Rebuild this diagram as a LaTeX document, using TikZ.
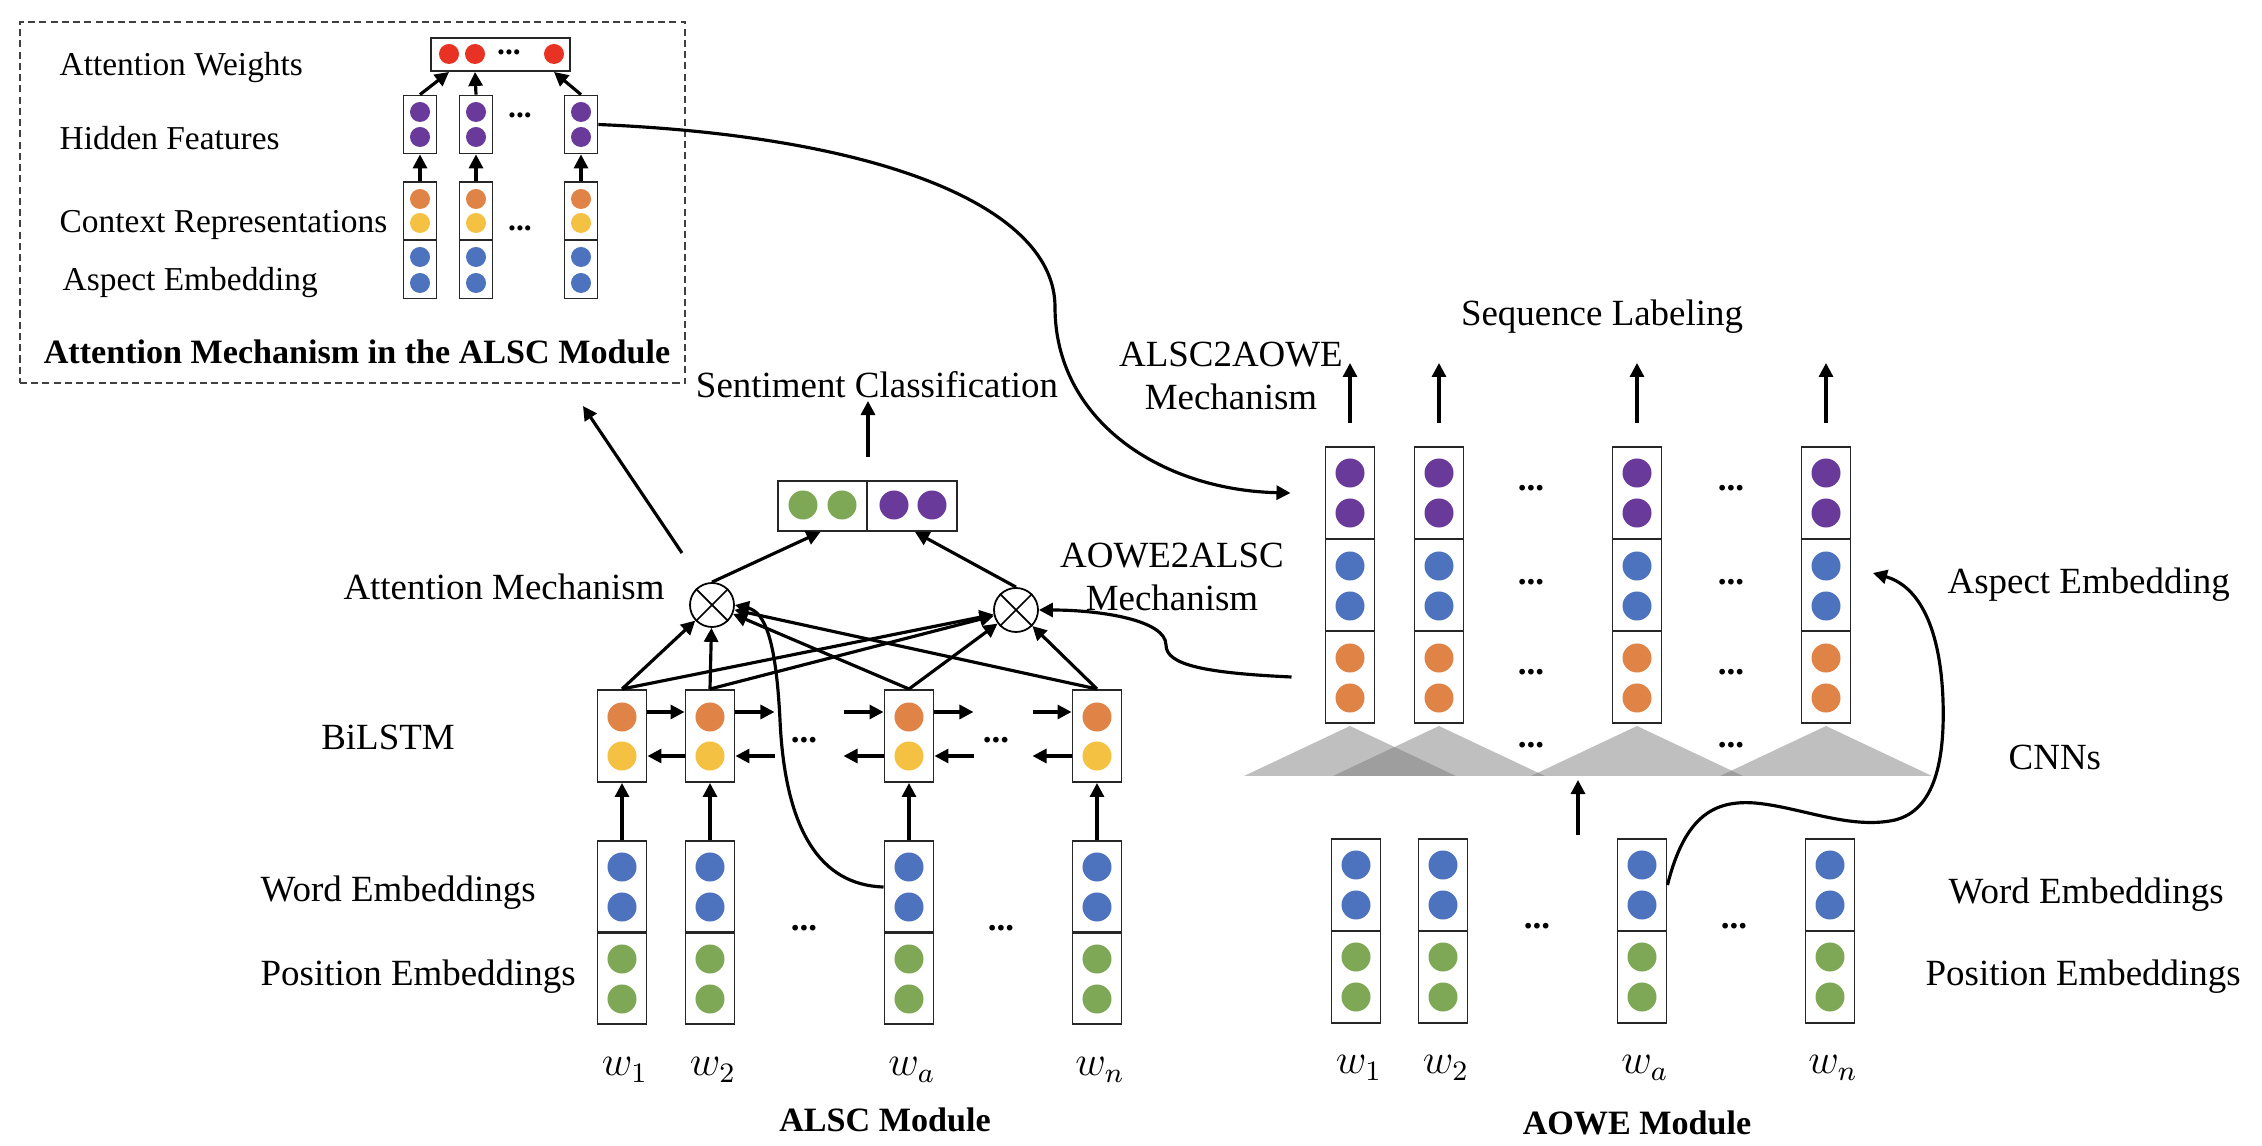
\documentclass[tikz,border=0pt]{standalone}
\usepackage{fontspec}
\setmainfont{Liberation Serif}
\usetikzlibrary{arrows.meta}
\definecolor{dotpurple}{HTML}{6A3A9B}
\definecolor{dotblue}{HTML}{4E73BE}
\definecolor{dotgreen}{HTML}{7FA856}
\definecolor{dotorange}{HTML}{E08346}
\definecolor{dotyellow}{HTML}{F4C142}
\definecolor{dotred}{HTML}{E83223}
\begin{document}
\begin{tikzpicture}[
    x=0.01cm, y=-0.01cm,
    vec/.style={draw=black!85, line width=0.55pt, minimum width=0.49cm,
                minimum height=0.92cm, inner sep=0pt},
    svec/.style={draw=black!85, line width=0.5pt, minimum width=0.33cm,
                 minimum height=0.58cm, inner sep=0pt},
    hvec/.style={draw=black!85, line width=0.55pt, minimum height=0.5cm, inner sep=0pt},
    dot/.style={circle, inner sep=0pt, minimum size=0.29cm},
    sdot/.style={circle, inner sep=0pt, minimum size=0.2cm},
    arr/.style={line width=0.9pt, -{Triangle[length=1.4mm, width=1.4mm]}},
    lab/.style={font=\fontsize{10.5}{12.2}\selectfont, inner sep=0pt},
    slab/.style={font=\fontsize{9.5}{11}\selectfont, inner sep=0pt},
    ttl/.style={font=\fontsize{9.7}{11}\selectfont\bfseries, inner sep=0pt},
    wlab/.style={font=\fontsize{12}{14}\selectfont, inner sep=0pt},
    ellip/.style={font=\fontsize{10}{12}\selectfont\bfseries, inner sep=0pt},
    cnn/.style={fill=black!52, fill opacity=0.48},
    mul/.style={draw, circle, line width=0.5pt, minimum size=0.44cm, inner sep=0pt}
  ]
  \useasboundingbox (0,0) rectangle (2262,1146);

  % attention mechanism in the ALSC module
  \node[draw=black!75, line width=0.5pt, dash pattern=on 2pt off 1.2pt,
        minimum width=6.65cm, minimum height=3.61cm] (attbox) at (352.5,202.5) {};
  \node[draw=black!85, line width=0.55pt, minimum width=1.39cm,
        minimum height=0.33cm, inner sep=0pt] (aw) at (500.5,54.5) {};
  \node[sdot, fill=dotred] (rd1) at (449,54) {};
  \node[sdot, fill=dotred] (rd2) at (475,54) {};
  \node[sdot, fill=dotred] (rd3) at (554,54) {};
  \foreach \x [count=\i] in {420,476,581} {
    \node[svec] (ah\i) at (\x,124.5) {};
    \node[svec] (ac\i) at (\x,211) {};
    \node[svec] (ae\i) at (\x,269.5) {};
    \node[sdot, fill=dotpurple] (ah\i-a) at (\x,112) {};
    \node[sdot, fill=dotpurple] (ah\i-b) at (\x,137) {};
    \node[sdot, fill=dotorange] (ac\i-a) at (\x,199) {};
    \node[sdot, fill=dotyellow] (ac\i-b) at (\x,223) {};
    \node[sdot, fill=dotblue] (ae\i-a) at (\x,257) {};
    \node[sdot, fill=dotblue] (ae\i-b) at (\x,283) {};
    \draw[arr] (ac\i.north) -- (ah\i.south);
    \draw[arr] (ah\i.north) -- (rd\i |- aw.south);
  }
  \node[slab, anchor=west] (lblaw) at (59,68) {Attention Weights};
  \node[slab, anchor=west] (lblhf) at (59,138) {Hidden Features};
  \node[slab, anchor=west] (lblcr) at (59,225) {Context Representations};
  \node[slab, anchor=west] (lblae) at (62,283) {Aspect Embedding};
  \node[ttl] (lblatt) at (357,352) {Attention Mechanism in the ALSC Module};

  % ALSC module
  \foreach \x/\s [count=\i] in {622/1,710/2,909/a,1097/n} {
    \node[vec] (lh\i) at (\x,736) {};
    \node[vec] (lw\i) at (\x,887) {};
    \node[vec] (lp\i) at (\x,978) {};
    \node[dot, fill=dotorange] (lh\i-a) at (\x,717) {};
    \node[dot, fill=dotyellow] (lh\i-b) at (\x,756) {};
    \node[dot, fill=dotblue] (lw\i-a) at (\x,867) {};
    \node[dot, fill=dotblue] (lw\i-b) at (\x,907) {};
    \node[dot, fill=dotgreen] (lp\i-a) at (\x,959) {};
    \node[dot, fill=dotgreen] (lp\i-b) at (\x,999) {};
    \node[wlab] (ll\i) at (\x+3,1070) {$w_{\s}$};
    \draw[arr] (lw\i.north) -- (lh\i.south);
  }
  \node[mul] (lo) at (712,605) {};
  \node[mul] (ro) at (1016,610) {};
  \draw[line width=0.5pt] (lo.north west) -- (lo.south east) (lo.north east) -- (lo.south west);
  \draw[line width=0.5pt] (ro.north west) -- (ro.south east) (ro.north east) -- (ro.south west);
  \foreach \i in {1,...,4} {
    \draw[arr] (lh\i.north) -- (lo);
    \draw[arr] (lh\i.north) -- (ro);
  }
  % BiLSTM directions
  \draw[arr] ([yshift=0.24cm]lh1.east) -- ([yshift=0.24cm]lh2.west);
  \draw[arr] ([yshift=0.24cm]lh2.east) -- ++(39,0);
  \draw[arr] ([yshift=0.24cm,xshift=-0.40cm]lh3.west) -- ([yshift=0.24cm]lh3.west);
  \draw[arr] ([yshift=0.24cm]lh3.east) -- ++(39,0);
  \draw[arr] ([yshift=0.24cm,xshift=-0.39cm]lh4.west) -- ([yshift=0.24cm]lh4.west);
  \draw[arr] ([yshift=-0.20cm]lh2.west) -- ([yshift=-0.20cm]lh1.east);
  \draw[arr] ([yshift=-0.20cm,xshift=0.39cm]lh2.east) -- ([yshift=-0.20cm]lh2.east);
  \draw[arr] ([yshift=-0.20cm]lh3.west) -- ++(-40,0);
  \draw[arr] ([yshift=-0.20cm,xshift=0.39cm]lh3.east) -- ([yshift=-0.20cm]lh3.east);
  \draw[arr] ([yshift=-0.20cm]lh4.west) -- ++(-39,0);

  % sentiment classification
  \node[hvec, minimum width=0.89cm] (sg) at (822.5,506) {};
  \node[hvec, minimum width=0.90cm] (sp) at (912,506) {};
  \node[dot, fill=dotgreen] (sg-a) at (803,505) {};
  \node[dot, fill=dotgreen] (sg-b) at (842,505) {};
  \node[dot, fill=dotpurple] (sp-a) at (894,505) {};
  \node[dot, fill=dotpurple] (sp-b) at (932,505) {};
  \draw[arr] (lo.north) -- ([xshift=-0.02cm]sg.south);
  \draw[arr] (ro.north) -- ([xshift=0.03cm]sp.south);
  \draw[arr] ([yshift=0.23cm]sg.north east) -- ++(0,-56);
  \node[lab] (lblsc) at (877,385) {Sentiment Classification};

  \node[lab] (lblam) at (504,587) {Attention Mechanism};
  \node[lab] (lblbi) at (388,737) {BiLSTM};
  \node[lab, anchor=west] (lblwe) at (260,893) {Word Embeddings};
  \node[lab, anchor=west] (lblpe) at (260,977) {Position Embeddings};
  \node[ttl] (lblalsc) at (885,1120) {ALSC Module};
  \node[lab, align=center] (lbla2a) at (1172,577) {AOWE2ALSC\\Mechanism};

  % AOWE module
  \foreach \x [count=\i] in {1350,1439,1637,1826} {
    \node[vec] (rs\i) at (\x,493) {};
    \node[vec] (ra\i) at (\x,585) {};
    \node[vec] (rc\i) at (\x,677) {};
    \node[dot, fill=dotpurple] (rs\i-a) at (\x,473) {};
    \node[dot, fill=dotpurple] (rs\i-b) at (\x,513) {};
    \node[dot, fill=dotblue] (ra\i-a) at (\x,566) {};
    \node[dot, fill=dotblue] (ra\i-b) at (\x,606) {};
    \node[dot, fill=dotorange] (rc\i-a) at (\x,658) {};
    \node[dot, fill=dotorange] (rc\i-b) at (\x,698) {};
    \draw[arr] ([yshift=0.23cm]rs\i.north) -- ++(0,-60);
    \fill[cnn] ([yshift=-0.02cm]rc\i.south) -- ++(-106,50) -- ++(212,0) -- cycle;
  }
  \foreach \x/\s [count=\i] in {1356/1,1443/2,1642/a,1830/n} {
    \node[vec] (rw\i) at (\x,885) {};
    \node[vec] (rp\i) at (\x,977) {};
    \node[dot, fill=dotblue] (rw\i-a) at (\x,865) {};
    \node[dot, fill=dotblue] (rw\i-b) at (\x,905) {};
    \node[dot, fill=dotgreen] (rp\i-a) at (\x,957) {};
    \node[dot, fill=dotgreen] (rp\i-b) at (\x,997) {};
    \node[wlab] (rl\i) at (\x+3,1068) {$w_{\s}$};
  }
  \coordinate (cnnin) at (1578,835);
  \draw[arr] (cnnin) -- ++(0,-55);

  \node[lab] (lblsl) at (1602,317) {Sequence Labeling};
  \node[lab, align=center] (lbla2o) at (1231,376) {ALSC2AOWE\\Mechanism};
  \node[lab, anchor=west] (lblasp) at (1947,585) {Aspect Embedding};
  \node[lab, anchor=west] (lblcnn) at (2008,757) {CNNs};
  \node[lab, anchor=west] (lblwe2) at (1948,895) {Word Embeddings};
  \node[lab, anchor=west] (lblpe2) at (1925,977) {Position Embeddings};
  \node[ttl] (lblaowe) at (1637,1123) {AOWE Module};

  % ellipses
  \foreach \x/\y [count=\k] in {804/740,996/740,804/928,1001/928,
      1531/488,1731/488,1531/582,1731/582,1531/672,1731/672,
      1531/745,1731/745,1537/926,1734/926}
    \node[ellip] (dd\k) at (\x,\y) {...};
  \foreach \x/\y [count=\k] in {520/115,520/228,509/52}
    \node[ellip, font=\fontsize{9}{11}\selectfont\bfseries] (sd\k) at (\x,\y) {...};

  % cross-module connections
  \coordinate (atttail) at (682,553);
  \coordinate (atttip) at (583,406);
  \draw[arr] (atttail) -- (atttip);
  \draw[arr] (ah3.east) .. controls (890,137) and (1055,210) .. (1055,307)
    .. controls (1055,420) and (1160,490) .. ([xshift=-0.34cm]rs1.west);
  \draw[arr] ([xshift=-0.33cm]rc1.west) .. controls (1205,673) and (1166,665) .. (1166,645)
    .. controls (1166,620) and (1100,610) .. (ro.east);
  \draw[arr] (lw3.west) .. controls (820,885) and (785,830) .. (780,720)
    .. controls (776,640) and (765,612) .. (lo.east);
  \coordinate (aetip) at (1873,573);
  \draw[arr] (rw3.east) .. controls (1685,815) and (1715,800) .. (1755,803)
    .. controls (1800,807) and (1850,830) .. (1895,820)
    .. controls (1935,810) and (1945,760) .. (1943,700)
    .. controls (1940,620) and (1915,585) .. (aetip);
\end{tikzpicture}
\end{document}
